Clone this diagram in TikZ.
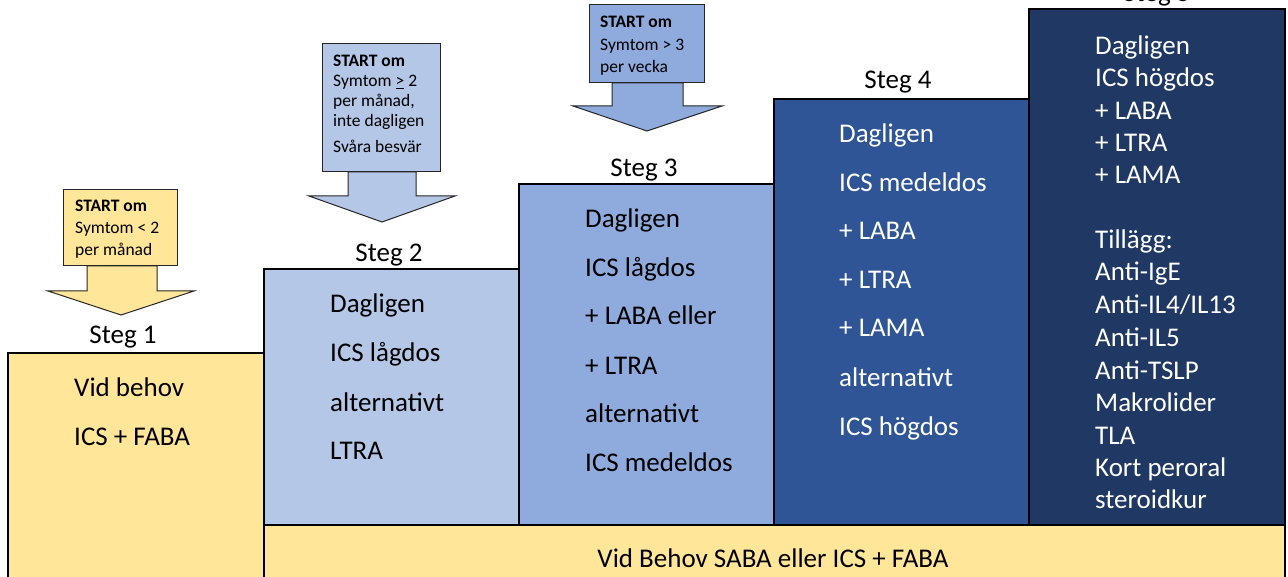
\documentclass[tikz,border=0pt]{standalone}
\usepackage{fontspec}
\setmainfont{Carlito}
\definecolor{yel}{HTML}{FFE699}
\definecolor{blueA}{HTML}{B4C7E7}
\definecolor{blueB}{HTML}{8FAADC}
\definecolor{blueC}{HTML}{2F5597}
\definecolor{blueD}{HTML}{203864}
\begin{document}
\begin{tikzpicture}[x=1pt,y=-1pt,
  stepbox/.style={draw=black, line width=1.2pt},
  arrowshape/.style={draw=black!85, line width=1pt},
  big/.style={font=\fontsize{27}{32}\selectfont, anchor=base west, inner sep=0pt},
  steglabel/.style={font=\fontsize{27}{32}\selectfont, anchor=base, inner sep=0pt},
  small/.style={font=\fontsize{17.5}{21}\selectfont, anchor=base west, inner sep=0pt}]
\useasboundingbox (0,0) rectangle (1288,577);
% step boxes
\fill[white] (0,0) rectangle (1288,577);
\draw[stepbox, fill=yel] (8,353) rectangle (264,600);
\draw[stepbox, fill=blueA] (264,269) rectangle (519,525);
\draw[stepbox, fill=blueB] (519,184) rectangle (774,525);
\draw[stepbox, fill=blueC] (774,99) rectangle (1029,525);
\draw[stepbox, fill=blueD] (1029,9) rectangle (1285,525);
\draw[stepbox, fill=yel] (264,525) rectangle (1285,600);
% labels
\node[steglabel] (l1) at (123,344) {Steg 1};
\node[steglabel] (l2) at (389,262) {Steg 2};
\node[steglabel] (l3) at (644,177) {Steg 3};
\node[steglabel] (l4) at (898,89) {Steg 4};
\node[steglabel] (l5) at (1157,2) {Steg 5};
% step 1
\foreach \yy/\txt [count=\i] in {396/Vid behov, 445/ICS + FABA}
  {\node[big] (s1t\i) at (74,\yy) {\txt};}
% step 2
\foreach \yy/\txt [count=\i] in {313/Dagligen, 361/ICS lågdos, 411/alternativt, 459/LTRA}
  {\node[big] (s2t\i) at (330,\yy) {\txt};}
% step 3
\foreach \yy/\txt [count=\i] in {228/Dagligen, 277/ICS lågdos, 325/+ LABA eller, 374/+ LTRA, 422/alternativt, 471/ICS medeldos}
  {\node[big] (s3t\i) at (585,\yy) {\txt};}
% step 4
\foreach \yy/\txt [count=\i] in {143/Dagligen, 192/ICS medeldos, 240/+ LABA, 289/+ LTRA, 337/+ LAMA, 386/alternativt, 435/ICS högdos}
  {\node[big, text=white] (s4t\i) at (839,\yy) {\txt};}
% step 5
\foreach \yy/\txt [count=\i] in {55/Dagligen, 87/ICS högdos, 120/+ LABA, 152/+ LTRA, 184/+ LAMA, 249/Tillägg:, 281/Anti-IgE, 314/{Anti-IL4/IL13}, 346/Anti-IL5, 379/Anti-TSLP, 411/Makrolider, 444/TLA, 476/Kort peroral, 508/steroidkur}
  {\node[big, text=white] (s5t\i) at (1095,\yy) {\txt};}
% bottom bar
\node[steglabel] (bar) at (773,567) {Vid Behov SABA eller ICS + FABA};
% arrow 1
\draw[arrowshape, fill=yel] (87,266) -- (157,266) -- (157,291) -- (194,291) -- (121,315) -- (48,291) -- (87,291) -- cycle;
\draw[arrowshape, fill=yel] (63,190) rectangle (177,266);
\node[small] (a1t1) at (75,212) {\textbf{START om}};
\node[small] (a1t2) at (75,234) {Symtom < 2};
\node[small] (a1t3) at (75,256) {per månad};
% arrow 2
\draw[arrowshape, fill=blueA] (348,172) -- (416,172) -- (416,196) -- (455,196) -- (382,222) -- (309,196) -- (348,196) -- cycle;
\draw[arrowshape, fill=blueA] (322,44) rectangle (440,172);
\node[small] (a2t1) at (333,67) {\textbf{START om}};
\node[small] (a2t2) at (333,87) {Symtom \underline{>} 2};
\node[small] (a2t3) at (333,107) {per månad,};
\node[small] (a2t4) at (333,127) {inte dagligen};
\node[small] (a2t5) at (333,153) {Svåra besvär};
% arrow 3
\draw[arrowshape, fill=blueB] (612,83) -- (683,83) -- (683,106) -- (722,106) -- (647,131) -- (573,106) -- (612,106) -- cycle;
\draw[arrowshape, fill=blueB] (589,5) rectangle (704,83);
\node[small] (a3t1) at (600,28) {\textbf{START om}};
\node[small] (a3t2) at (600,51) {Symtom > 3};
\node[small] (a3t3) at (600,73) {per vecka};
\end{tikzpicture}
\end{document}
